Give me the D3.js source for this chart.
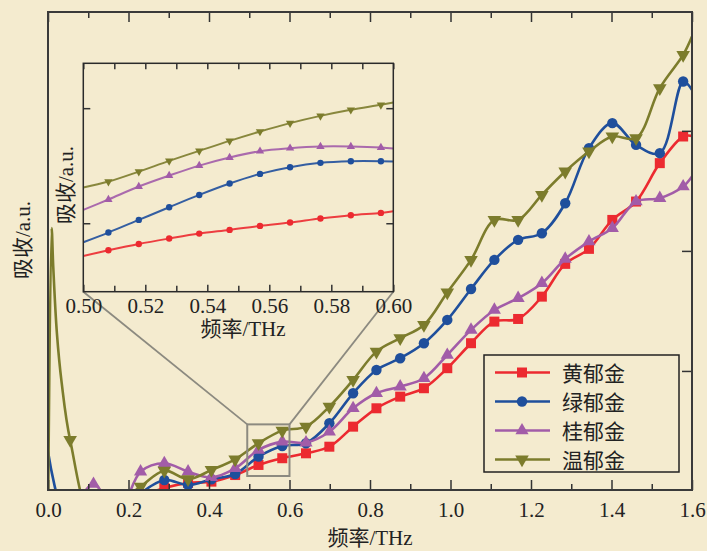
<!DOCTYPE html>
<html>
<head>
<meta charset="utf-8">
<script src="https://cdn.jsdelivr.net/npm/d3@7"></script>
<style>
  html, body { margin: 0; padding: 0; background: #F4EBCF; }
  svg { display: block; }
  text { font-family: "Liberation Serif", "Noto Sans CJK SC", serif; fill: #222; }
</style>
</head>
<body>
<div id="chart"></div>
<script>
// ---- data ----
const freqs = [0.000, 0.055, 0.113, 0.172, 0.230, 0.289, 0.348, 0.406, 0.465, 0.523,
  0.582, 0.641, 0.699, 0.758, 0.816, 0.875, 0.934, 0.992, 1.051, 1.109,
  1.168, 1.227, 1.285, 1.344, 1.402, 1.461, 1.520, 1.578, 1.600];

const yellowVals = [-0.3, -0.3, -0.3, -0.2, -0.05, 0.025, 0.067, 0.078, 0.133, 0.217,
  0.273, 0.314, 0.369, 0.536, 0.689, 0.786, 0.856, 1.023, 1.231, 1.411,
  1.433, 1.619, 1.892, 2.017, 2.258, 2.411, 2.731, 2.953, 2.958];
const greenVals = [0.330, -0.3, -0.3, -0.2, -0.02, 0.092, 0.05, 0.098, 0.142, 0.286,
  0.375, 0.398, 0.564, 0.814, 1.008, 1.106, 1.231, 1.425, 1.683, 1.925,
  2.092, 2.147, 2.397, 2.856, 3.064, 2.883, 2.814, 3.411, 3.342];
const osmanVals = [-0.3, -0.2, 0.058, -0.2, 0.161, 0.231, 0.161, 0.114, 0.189, 0.342,
  0.411, 0.403, 0.494, 0.689, 0.814, 0.869, 0.939, 1.133, 1.342, 1.508,
  1.606, 1.731, 1.933, 2.078, 2.189, 2.411, 2.439, 2.536, 2.619];
const wenVals = [null, 0.425, -0.25, -0.1, 0.036, 0.169, 0.098, 0.175, 0.264, 0.398,
  0.503, 0.536, 0.703, 0.925, 1.161, 1.273, 1.383, 1.654, 1.925, 2.258,
  2.258, 2.467, 2.661, 2.828, 2.953, 2.939, 3.356, 3.633, 3.786];
// steep rise of 温郁金 right at 0 THz
const wenLeadFreqs = [0.000, 0.009, 0.013, 0.022, 0.034];
const wenLeadVals = [-0.3, 2.19, 1.87, 1.32, 0.90];

// inset 0.50-0.60 THz
const insetFreqs = [0.500, 0.5081, 0.5179, 0.5277, 0.5374, 0.5472, 0.5570, 0.5667, 0.5765, 0.5863, 0.5960, 0.600];
const insetYellow = [0.716, 0.765, 0.820, 0.867, 0.910, 0.942, 0.977, 1.006, 1.041, 1.070, 1.090, 1.104];
const insetGreen = [0.835, 0.919, 1.029, 1.139, 1.246, 1.345, 1.429, 1.487, 1.525, 1.539, 1.539, 1.536];
const insetOsman = [1.116, 1.206, 1.319, 1.414, 1.501, 1.571, 1.626, 1.652, 1.667, 1.667, 1.658, 1.649];
const insetWen = [1.310, 1.362, 1.449, 1.542, 1.629, 1.716, 1.797, 1.870, 1.933, 1.986, 2.029, 2.049];

const seriesNames = ["黄郁金", "绿郁金", "桂郁金", "温郁金"];
const seriesColors = ["#EC2A30", "#1F4F9C", "#A25CA8", "#7C7C2C"];
const seriesSymbols = ["square", "circle", "up", "down"];

const mainTickLabels = ["0.0", "0.2", "0.4", "0.6", "0.8", "1.0", "1.2", "1.4", "1.6"];
const insetTickLabels = ["0.50", "0.52", "0.54", "0.56", "0.58", "0.60"];
const zoomBox = { x0: 0.5, x1: 0.6, y0: 0.125, y1: 0.555 };

// ---- setup ----
const W = 707, H = 551;
const svg = d3.select("#chart").append("svg").attr("width", W).attr("height", H);
svg.append("rect").attr("width", W).attr("height", H).attr("fill", "#F4EBCF");

const x = d3.scaleLinear().domain([0, 1.6]).range([48, 692]);
const y = d3.scaleLinear().domain([0, 3.99]).range([491, 12]);

const symbolPath = (kind, size) => {
  if (kind === "square") return d3.symbol(d3.symbolSquare, size)();
  if (kind === "circle") return d3.symbol(d3.symbolCircle, size)();
  return d3.symbol(d3.symbolTriangle, size)();
};
const symbolRot = kind => kind === "down" ? 180 : 0;

svg.append("clipPath").attr("id", "plotclip")
  .append("rect").attr("x", 48).attr("y", 12).attr("width", 644).attr("height", 478);

// ---- main series ----
const mainSeries = [yellowVals, greenVals, osmanVals, wenVals].map((vals, i) => {
  let pts = freqs.map((f, k) => ({ f, v: vals[k], mark: k > 0 && k < freqs.length - 1 }))
    .filter(d => d.v !== null);
  if (i === 3) {
    const lead = wenLeadFreqs.map((f, k) => ({ f, v: wenLeadVals[k], mark: false }));
    pts = lead.concat(pts);
  }
  return { name: seriesNames[i], color: seriesColors[i], sym: seriesSymbols[i], pts };
});

const line = d3.line().x(d => x(d.f)).y(d => y(d.v)).curve(d3.curveCatmullRom.alpha(0.5));
const mainSizes = { square: 100, circle: 85, up: 75, down: 80 };

const plot = svg.append("g").attr("clip-path", "url(#plotclip)");
mainSeries.forEach(s => {
  plot.append("path").datum(s.pts)
    .attr("d", line).attr("fill", "none")
    .attr("stroke", s.color).attr("stroke-width", 2.6);
  plot.selectAll(null).data(s.pts.filter(d => d.mark)).enter()
    .append("path")
    .attr("d", symbolPath(s.sym, mainSizes[s.sym]))
    .attr("transform", d => `translate(${x(d.f)},${y(d.v)}) rotate(${symbolRot(s.sym)})`)
    .attr("fill", s.color);
});

// ---- axes ----
const axisStyle = g => {
  g.select(".domain").remove();
  g.selectAll("line").attr("stroke", "#333").attr("stroke-width", 1.5);
  g.selectAll("text").attr("font-size", 21).attr("font-family", "Liberation Serif, serif").attr("fill", "#222");
};
const majorX = d3.range(0, 9).map(i => i * 0.2);
const minorX = d3.range(0, 8).map(i => 0.1 + i * 0.2);

svg.append("g").attr("transform", "translate(0,490)")
  .call(d3.axisBottom(x).tickValues(majorX).tickSize(-10).tickPadding(12)
    .tickFormat((d, i) => mainTickLabels[i]))
  .call(axisStyle);
svg.append("g").attr("transform", "translate(0,490)")
  .call(d3.axisBottom(x).tickValues(minorX).tickSize(-6).tickFormat(""))
  .call(axisStyle);
svg.append("g").attr("transform", "translate(0,12)")
  .call(d3.axisTop(x).tickValues(majorX).tickSize(-10).tickFormat(""))
  .call(axisStyle);
svg.append("g").attr("transform", "translate(0,12)")
  .call(d3.axisTop(x).tickValues(minorX).tickSize(-6).tickFormat(""))
  .call(axisStyle);
svg.append("g").attr("transform", "translate(692,0)")
  .call(d3.axisRight(y).tickValues([1, 2, 3]).tickSize(-10).tickFormat(""))
  .call(axisStyle);

svg.append("rect").attr("x", 48).attr("y", 12).attr("width", 644).attr("height", 478)
  .attr("fill", "none").attr("stroke", "#3a3a3a").attr("stroke-width", 2);

svg.append("text").attr("x", 370).attr("y", 545).attr("text-anchor", "middle")
  .attr("font-size", 21).text("频率/THz");
svg.append("text").attr("transform", "translate(30,240) rotate(-90)")
  .attr("text-anchor", "middle").attr("font-size", 21).text("吸收/a.u.");

// ---- legend ----
const legend = svg.append("g");
legend.append("rect").attr("x", 484).attr("y", 355).attr("width", 195).attr("height", 117)
  .attr("fill", "#F4EBCF").attr("stroke", "#222").attr("stroke-width", 1.5);
mainSeries.forEach((s, i) => {
  const ly = 372.5 + i * 29;
  legend.append("line").attr("x1", 495).attr("x2", 550).attr("y1", ly).attr("y2", ly)
    .attr("stroke", s.color).attr("stroke-width", 2.6);
  legend.append("path").attr("d", symbolPath(s.sym, mainSizes[s.sym]))
    .attr("transform", `translate(522,${ly}) rotate(${symbolRot(s.sym)})`)
    .attr("fill", s.color);
  legend.append("text").attr("x", 562).attr("y", ly + 8).attr("font-size", 21)
    .attr("font-family", "Noto Sans CJK SC").text(s.name);
});

// ---- zoom box and connectors ----
const ix = d3.scaleLinear().domain([0.5, 0.6]).range([83.3, 393.3]);
const iy = d3.scaleLinear().domain([0.405, 2.39]).range([291.7, 63.3]);

svg.append("rect")
  .attr("x", x(zoomBox.x0) - 2).attr("y", y(zoomBox.y1))
  .attr("width", x(zoomBox.x1) - x(zoomBox.x0) + 2).attr("height", y(zoomBox.y0) - y(zoomBox.y1))
  .attr("fill", "none").attr("stroke", "#8c8a80").attr("stroke-width", 2);
svg.append("line").attr("x1", ix(0.5)).attr("y1", iy.range()[0])
  .attr("x2", x(zoomBox.x0) - 2).attr("y2", y(zoomBox.y1))
  .attr("stroke", "#8c8a80").attr("stroke-width", 1.8);
svg.append("line").attr("x1", ix(0.6)).attr("y1", iy.range()[0])
  .attr("x2", x(zoomBox.x1)).attr("y2", y(zoomBox.y1))
  .attr("stroke", "#8c8a80").attr("stroke-width", 1.8);

// ---- inset ----
const inset = svg.append("g");
inset.append("rect").attr("x", 83.3).attr("y", 63.3).attr("width", 310).attr("height", 228.4)
  .attr("fill", "#F4EBCF");

const insetLine = d3.line().x(d => ix(d.f)).y(d => iy(d.v)).curve(d3.curveCatmullRom.alpha(0.5));
const insetSizes = { square: 32, circle: 32, up: 30, down: 30 };
const insetSyms = ["circle", "circle", "up", "down"];
[insetYellow, insetGreen, insetOsman, insetWen].forEach((vals, i) => {
  const pts = insetFreqs.map((f, k) => ({ f, v: vals[k], mark: k > 0 && k < insetFreqs.length - 1 }));
  inset.append("path").datum(pts).attr("d", insetLine).attr("fill", "none")
    .attr("stroke", seriesColors[i]).attr("stroke-width", 2).attr("stroke-opacity", 0.9);
  inset.selectAll(null).data(pts.filter(d => d.mark)).enter().append("path")
    .attr("d", symbolPath(insetSyms[i], insetSizes[insetSyms[i]]))
    .attr("transform", d => `translate(${ix(d.f)},${iy(d.v)}) rotate(${symbolRot(insetSyms[i])})`)
    .attr("fill", seriesColors[i]);
});

const insetMajor = d3.range(0, 6).map(i => 0.5 + i * 0.02);
const insetMinor = d3.range(0, 5).map(i => 0.51 + i * 0.02);
inset.append("g").attr("transform", "translate(0,291.7)")
  .call(d3.axisBottom(ix).tickValues(insetMajor).tickSize(-7).tickPadding(6)
    .tickFormat((d, i) => insetTickLabels[i]))
  .call(axisStyle);
inset.append("g").attr("transform", "translate(0,291.7)")
  .call(d3.axisBottom(ix).tickValues(insetMinor).tickSize(-6).tickFormat(""))
  .call(axisStyle);
inset.append("g").attr("transform", "translate(0,63.3)")
  .call(d3.axisTop(ix).tickValues(insetMajor.concat(insetMinor)).tickSize(-6).tickFormat(""))
  .call(axisStyle);
inset.append("g").attr("transform", "translate(83.3,0)")
  .call(d3.axisLeft(iy).tickValues([1, 2]).tickSize(-7).tickFormat(""))
  .call(axisStyle);
inset.append("g").attr("transform", "translate(393.3,0)")
  .call(d3.axisRight(iy).tickValues([1, 2]).tickSize(-7).tickFormat(""))
  .call(axisStyle);
inset.append("rect").attr("x", 83.3).attr("y", 63.3).attr("width", 310).attr("height", 228.4)
  .attr("fill", "none").attr("stroke", "#2a2a2a").attr("stroke-width", 1.5);

inset.append("text").attr("x", 243).attr("y", 336).attr("text-anchor", "middle")
  .attr("font-size", 21).text("频率/THz");
inset.append("text").attr("transform", "translate(73,185) rotate(-90)")
  .attr("text-anchor", "middle").attr("font-size", 21).text("吸收/a.u.");
</script>
</body>
</html>
